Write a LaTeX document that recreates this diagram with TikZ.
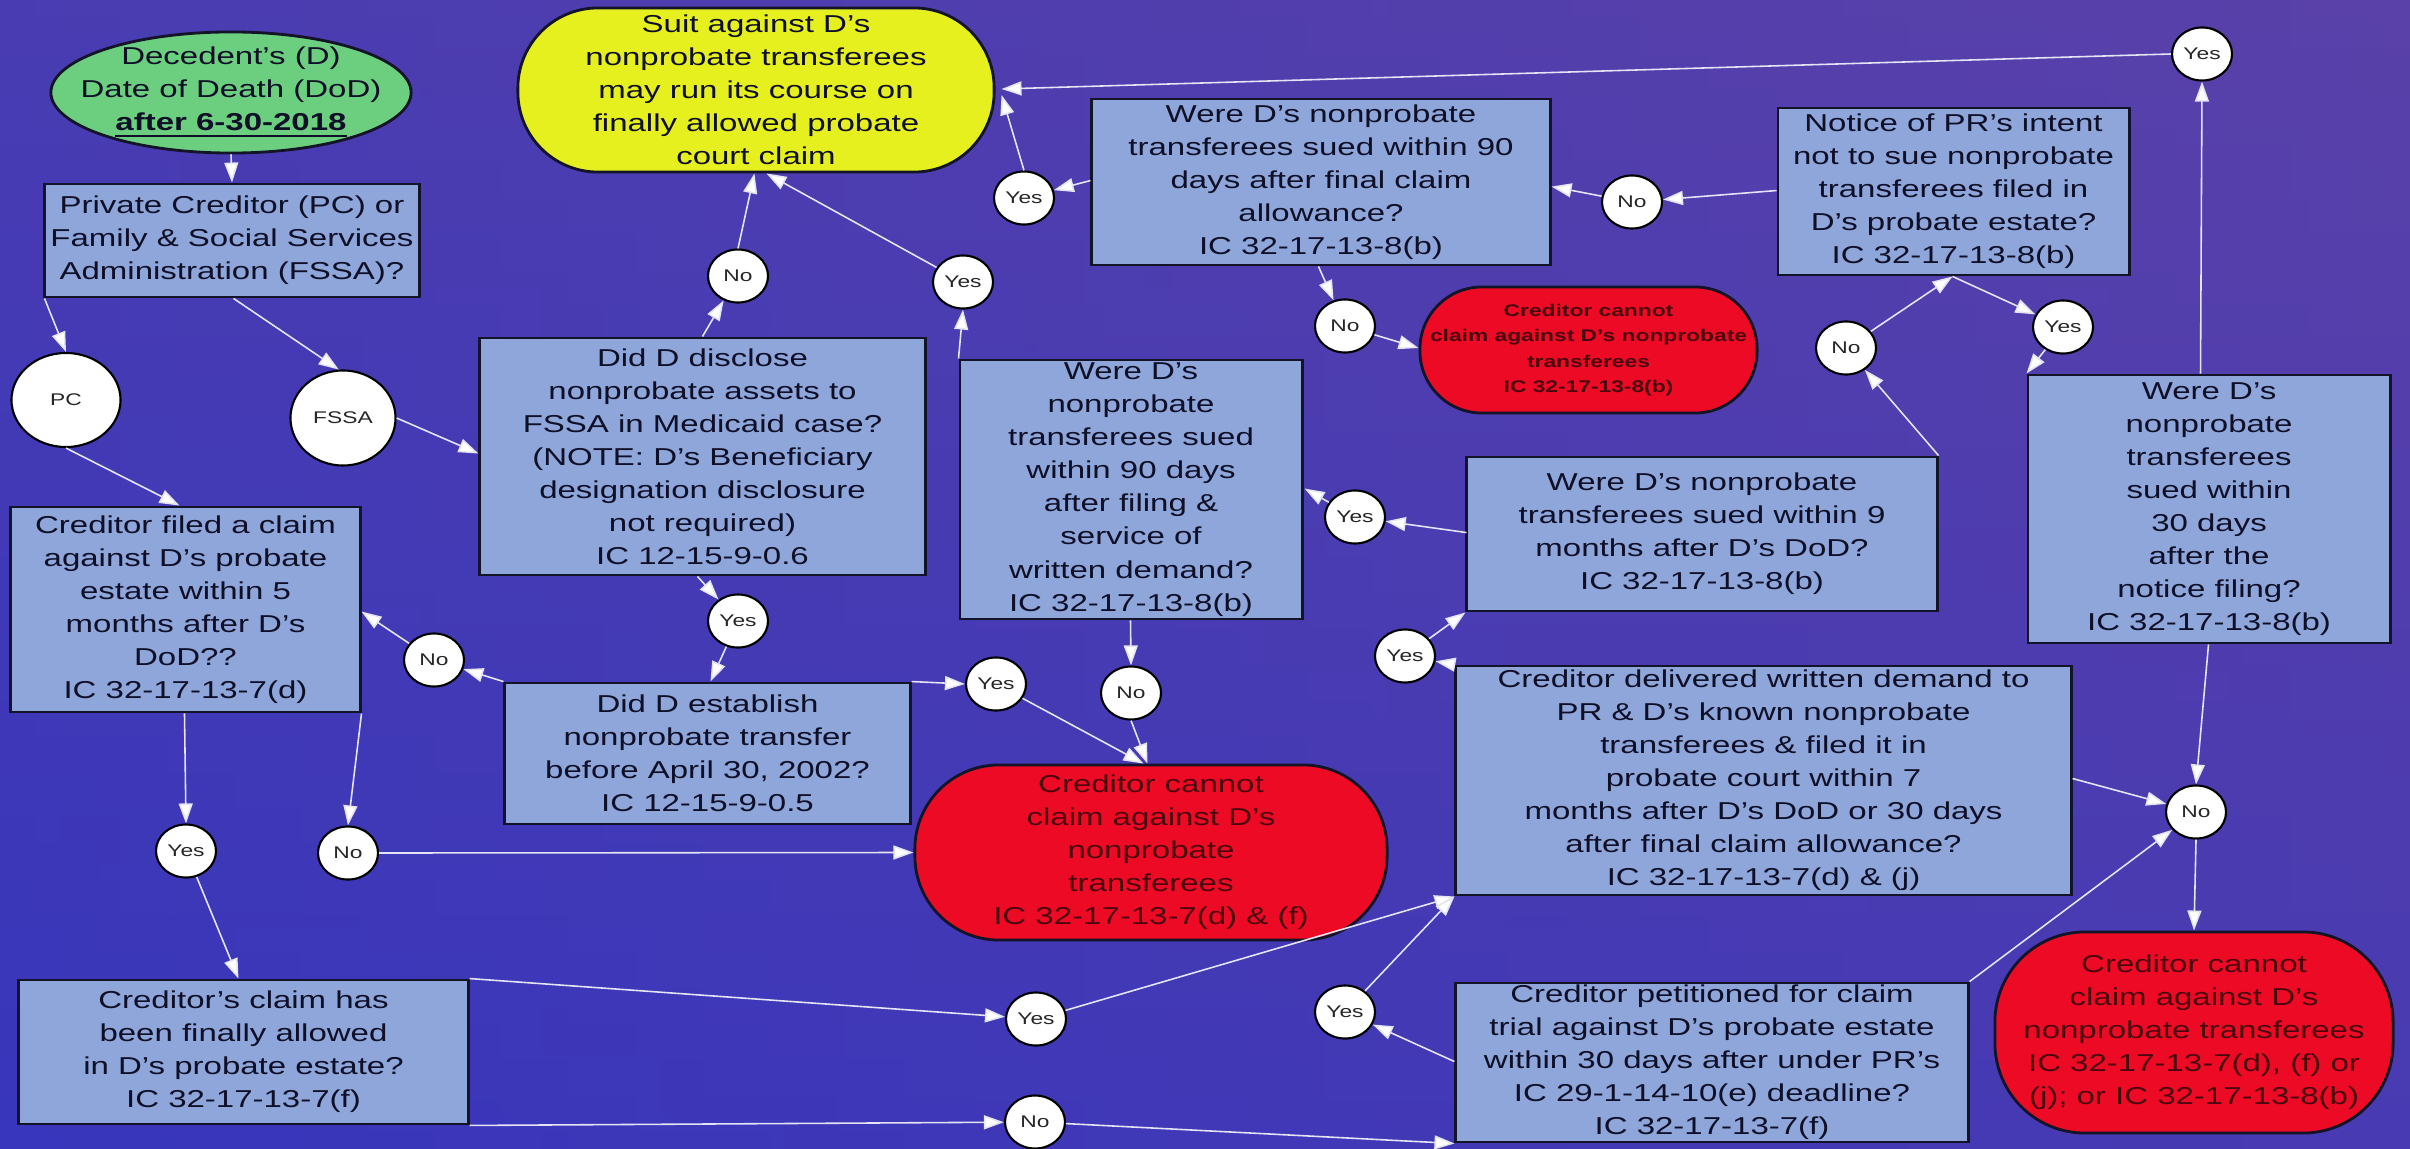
\documentclass[tikz,border=0pt]{standalone}
\usepackage{fontspec}
\setmainfont{Liberation Sans}[FakeStretch=1.35]
\usetikzlibrary{shapes.geometric,arrows.meta,calc}
\definecolor{boxfill}{RGB}{142,166,217}
\definecolor{boxline}{RGB}{20,20,40}
\definecolor{txt}{RGB}{15,15,40}
\definecolor{grn}{RGB}{108,207,128}
\definecolor{ylw}{RGB}{230,240,30}
\definecolor{rd}{RGB}{236,10,36}
\definecolor{rdtxt}{RGB}{75,5,15}
\definecolor{lnk}{RGB}{228,228,245}
\definecolor{bgtop}{RGB}{88,66,170}
\definecolor{bgbot}{RGB}{56,54,188}
\definecolor{bgright}{RGB}{92,64,168}
\newcommand\fmain{\fontsize{6.95}{9.4}\selectfont}
\newcommand\fsml{\fontsize{4.8}{7.2}\selectfont}
\newcommand\fcirc{\fontsize{4.8}{5.5}\selectfont}
\begin{document}
\begin{tikzpicture}[x=0.01cm,y=-0.01cm,
  box/.style={draw=boxline,line width=0.8pt,fill=boxfill,inner sep=0pt,align=center,text=txt,font=\fmain},
  term/.style={draw=boxline,line width=0.8pt,inner sep=0pt,align=center,font=\fmain},
  circ/.style={ellipse,draw=black,line width=0.6pt,fill=white,inner sep=0pt,minimum width=0.6cm,minimum height=0.53cm,font=\fcirc,text=black!85},
  link/.style={draw=lnk,line width=0.45pt,-{Triangle[length=0.2cm,width=0.14cm,fill=white]}}
]
\useasboundingbox (0,0) rectangle (2410,1149);
\shade[top color=bgtop,bottom color=bgbot] (0,0) rectangle (2410,1149);
\shade[left color=bgbot,right color=bgright,opacity=0.45] (0,0) rectangle (2410,1149);

% ---------- nodes ----------
\node[ellipse,draw=boxline,line width=0.8pt,fill=grn,inner sep=0pt,minimum width=3.6cm,minimum height=1.21cm,
  label={[align=center,font=\fmain,text=txt]center:Decedent's (D)\\Date of Death (DoD)\\\textbf{\underline{after 6-30-2018}}}] (start) at (231,92.5) {};
\node[box,minimum width=3.74cm,minimum height=1.13cm] (q1) at (232,240.5) {Private Creditor (PC) or\\Family \& Social Services\\Administration (FSSA)?};
\node[circ,minimum width=1.09cm,minimum height=0.94cm] (PC) at (66,400) {PC};
\node[circ,minimum width=1.05cm,minimum height=0.95cm] (FSSA) at (343,418) {FSSA};
\node[term,fill=ylw,text=txt,rounded corners=0.8cm,minimum width=4.76cm,minimum height=1.64cm] (suit) at (756,90) {Suit against D's\\nonprobate transferees\\may run its course on\\finally allowed probate\\court claim};
\node[box,minimum width=4.45cm,minimum height=2.37cm] (disclose) at (702.5,456.5) {Did D disclose\\nonprobate assets to\\FSSA in Medicaid case?\\(NOTE: D's Beneficiary\\designation disclosure\\not required)\\IC 12-15-9-0.6};
\node[circ] (Na) at (738,276) {No};
\node[circ] (Yb) at (738,621) {Yes};
\node[box,minimum width=4.05cm,minimum height=1.41cm] (establish) at (707.5,753.5) {Did D establish\\nonprobate transfer\\before April 30, 2002?\\IC 12-15-9-0.5};
\node[circ] (Nc) at (434,660) {No};
\node[box,minimum width=3.49cm,minimum height=2.05cm] (filed) at (185.5,609.5) {Creditor filed a claim\\against D's probate\\estate within 5\\months after D's\\DoD??\\IC 32-17-13-7(d)};
\node[circ] (Yd) at (186,851) {Yes};
\node[circ] (Ne) at (348,853) {No};
\node[box,minimum width=4.49cm,minimum height=1.44cm] (allowed) at (243.5,1052) {Creditor's claim has\\been finally allowed\\in D's probate estate?\\IC 32-17-13-7(f)};
\node[circ] (Yf) at (996,684) {Yes};
\node[circ] (Ng) at (1131,693) {No};
\node[term,fill=rd,text=rdtxt,rounded corners=0.84cm,minimum width=4.72cm,minimum height=1.75cm] (cannot1) at (1151,852.5) {Creditor cannot\\claim against D's\\nonprobate\\transferees\\IC 32-17-13-7(d) \& (f)};
\node[circ] (Yh) at (963,282) {Yes};
\node[box,minimum width=3.42cm,minimum height=2.59cm] (sued90f) at (1131,489.5) {Were D's\\nonprobate\\transferees sued\\within 90 days\\after filing \&\\service of\\written demand?\\IC 32-17-13-8(b)};
\node[circ] (Yi) at (1024,198) {Yes};
\node[box,minimum width=4.58cm,minimum height=1.66cm] (sued90a) at (1321,182) {Were D's nonprobate\\transferees sued within 90\\days after final claim\\allowance?\\IC 32-17-13-8(b)};
\node[circ] (Nj) at (1345,326) {No};
\node[term,fill=rd,text=rdtxt,rounded corners=0.62cm,minimum width=3.37cm,minimum height=1.26cm,font=\fsml\bfseries] (cannot2) at (1588.5,350) {Creditor cannot\\claim against D's nonprobate\\transferees\\IC 32-17-13-8(b)};
\node[circ] (Nk) at (1632,202) {No};
\node[box,minimum width=3.51cm,minimum height=1.67cm] (notice) at (1953.5,191.5) {Notice of PR's intent\\not to sue nonprobate\\transferees filed in\\D's probate estate?\\IC 32-17-13-8(b)};
\node[circ] (Yl) at (2202,54) {Yes};
\node[circ] (Nm) at (1846,348) {No};
\node[circ] (Yn) at (2063,327) {Yes};
\node[box,minimum width=3.62cm,minimum height=2.68cm] (sued30) at (2209,509) {Were D's\\nonprobate\\transferees\\sued within\\30 days\\after the\\notice filing?\\IC 32-17-13-8(b)};
\node[box,minimum width=4.7cm,minimum height=1.54cm] (sued9m) at (1702,534) {Were D's nonprobate\\transferees sued within 9\\months after D's DoD?\\IC 32-17-13-8(b)};
\node[circ] (Yo) at (1355,517) {Yes};
\node[circ] (Yp) at (1405,656) {Yes};
\node[box,minimum width=6.15cm,minimum height=2.29cm] (delivered) at (1763.5,780.5) {Creditor delivered written demand to\\PR \& D's known nonprobate\\transferees \& filed it in\\probate court within 7\\months after D's DoD or 30 days\\after final claim allowance?\\IC 32-17-13-7(d) \& (j)};
\node[circ] (Nq) at (2196,812) {No};
\node[term,fill=rd,text=rdtxt,rounded corners=0.9cm,minimum width=3.98cm,minimum height=2.01cm] (cannot3) at (2194,1032.5) {Creditor cannot\\claim against D's\\nonprobate transferees\\IC 32-17-13-7(d), (f) or\\(j); or IC 32-17-13-8(b)};
\node[box,minimum width=5.12cm,minimum height=1.59cm] (petitioned) at (1712,1062.5) {Creditor petitioned for claim\\trial against D's probate estate\\within 30 days after under PR's\\IC 29-1-14-10(e) deadline?\\IC 32-17-13-7(f)};
\node[circ] (Yr) at (1345,1012) {Yes};
\node[circ] (Ys) at (1036,1019) {Yes};
\node[circ] (Nt) at (1035,1122) {No};

% ---------- connectors ----------
\draw[link] (start.south) -- (q1.north);
\draw[link] ($(q1.south west)+(1,0)$) -- (PC.north);
\draw[link] ($(q1.south west)+(190,0)$) -- (FSSA.95);
\draw[link] (PC.south) -- ($(filed.north west)+(170,0)$);
\draw[link] (FSSA.east) -- ($(disclose.north west)+(0,117)$);
\draw[link] ($(disclose.north west)+(224,0)$) -- (Na);
\draw[link] (Na.north) -- ($(suit.south west)+(238,0)$);
\draw[link] ($(disclose.south west)+(219,0)$) -- (Yb);
\draw[link] (Yb) -- ($(establish.north west)+(207,0)$);
\draw[link] (establish.north west) -- (Nc);
\draw[link] (Nc) -- ($(filed.north east)+(0,106)$);
\draw[link] ($(filed.south west)+(175,0)$) -- (Yd.north);
\draw[link] (filed.south east) -- (Ne.north);
\draw[link] (Yd) -- ($(allowed.north west)+(221,0)$);
\draw[link] (Ne.east) -- (cannot1.west);
\draw[link] (establish.north east) -- (Yf.west);
\draw[link] (Yf) -- ($(cannot1.north west)+(230,0)$);
\draw[link] ($(sued90f.south west)+(172,0)$) -- (Ng.north);
\draw[link] (Ng.south) -- ($(cannot1.north west)+(234,0)$);
\draw[link] (sued90f.north west) -- (Yh.south);
\draw[link] (Yh) -- ($(suit.south west)+(250,0)$);
\draw[link] ($(sued90a.north west)+(0,83)$) -- (Yi);
\draw[link] (Yi.north) -- ($(suit.east)+(6,5)$);
\draw[link] ($(sued90a.south west)+(228,0)$) -- (Nj);
\draw[link] (Nj) -- ($(cannot2.west)+(0,-2)$);
\draw[link] ($(notice.north west)+(0,84)$) -- (Nk);
\draw[link] (Nk) -- ($(sued90a.north east)+(0,89)$);
\draw[link] ($(notice.south west)+(176,0)$) -- (Yn);
\draw[link] (Yn) -- (sued30.north west);
\draw[link] ($(sued30.north west)+(174,0)$) -- (Yl.south);
\draw[link] (Yl.west) -- ($(suit.east)+(6,-1)$);
\draw[link] ($(sued30.south west)+(182,0)$) -- (Nq.north);
\draw[link] (sued9m.north east) -- (Nm);
\draw[link] (Nm) -- ($(notice.south west)+(176,0)$);
\draw[link] ($(sued9m.north west)+(1,77)$) -- (Yo);
\draw[link] (Yo) -- ($(sued90f.north east)+(1,130)$);
\draw[link] (delivered.north west) -- (Yp);
\draw[link] (Yp) -- (sued9m.south west);
\draw[link] ($(delivered.north east)+(0,114)$) -- (Nq);
\draw[link] (petitioned.north east) -- (Nq);
\draw[link] (Nq.south) -- (cannot3.north);
\draw[link] (allowed.north east) -- (Ys);
\draw[link] (Ys) -- (delivered.south west);
\draw[link] ($(petitioned.north west)+(0,80)$) -- (Yr);
\draw[link] (Yr) -- (delivered.south west);
\draw[link] (allowed.south east) -- (Nt);
\draw[link] (Nt) -- (petitioned.south west);
\end{tikzpicture}
\end{document}
